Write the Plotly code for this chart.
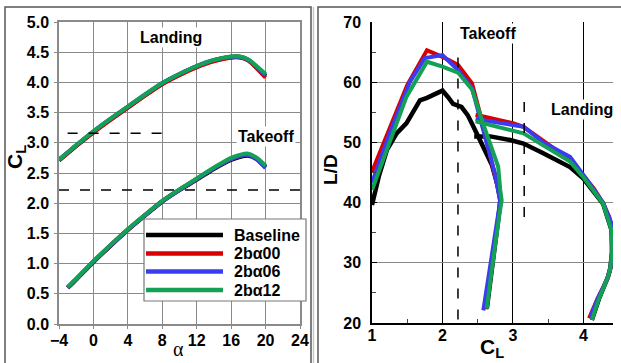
import plotly.graph_objects as go

W, H = 621, 363

# ---------------- Left panel data: CL vs alpha ----------------
alpha_land = [-4, -2, 0, 2, 4, 6, 8, 10, 12, 14, 16, 17, 18, 20]
cl_land_base = [2.71, 2.95, 3.18, 3.39, 3.59, 3.79, 3.98, 4.13, 4.26, 4.36, 4.42, 4.42, 4.37, 4.10]
cl_land_00 = [2.71, 2.95, 3.17, 3.38, 3.58, 3.78, 3.97, 4.12, 4.25, 4.35, 4.41, 4.41, 4.36, 4.08]
cl_land_06 = [2.72, 2.96, 3.19, 3.40, 3.60, 3.80, 3.99, 4.14, 4.27, 4.37, 4.42, 4.42, 4.37, 4.12]
cl_land_12 = [2.72, 2.96, 3.19, 3.40, 3.60, 3.80, 3.99, 4.14, 4.27, 4.37, 4.43, 4.43, 4.38, 4.14]

alpha_to = [-3, -2, 0, 2, 4, 6, 8, 10, 12, 14, 16, 17, 18, 19, 20]
cl_to_base = [0.60, 0.74, 1.03, 1.30, 1.56, 1.80, 2.03, 2.22, 2.39, 2.57, 2.72, 2.77, 2.79, 2.73, 2.60]
cl_to_00 = [0.60, 0.74, 1.03, 1.30, 1.56, 1.80, 2.03, 2.22, 2.40, 2.58, 2.73, 2.78, 2.80, 2.74, 2.60]
cl_to_06 = [0.60, 0.74, 1.03, 1.30, 1.56, 1.80, 2.03, 2.22, 2.40, 2.58, 2.73, 2.78, 2.80, 2.72, 2.58]
cl_to_12 = [0.61, 0.75, 1.04, 1.31, 1.57, 1.81, 2.04, 2.23, 2.41, 2.59, 2.75, 2.80, 2.82, 2.75, 2.62]

# ---------------- Right panel data: L/D vs CL ----------------
to_cl_base = [1.00, 1.10, 1.21, 1.35, 1.49, 1.60, 1.68, 1.78, 1.90, 2.00, 2.08, 2.15, 2.27, 2.36, 2.44, 2.58, 2.70, 2.78, 2.82, 2.80, 2.74, 2.68, 2.63]
to_ld_base = [39.6, 44.5, 48.7, 51.5, 53.2, 55.5, 57.0, 57.4, 58.0, 58.6, 57.5, 56.4, 55.9, 54.5, 52.6, 49.3, 46.3, 43.0, 40.4, 38.0, 32.7, 27.1, 22.4]
to_cl_00 = [1.00, 1.25, 1.50, 1.78, 2.00, 2.22, 2.42, 2.55, 2.68, 2.76, 2.80, 2.83, 2.80, 2.74, 2.68, 2.62]
to_ld_00 = [45.1, 52.5, 59.5, 65.3, 64.2, 62.9, 59.8, 54.0, 48.0, 44.0, 41.8, 40.4, 38.2, 32.7, 27.1, 22.3]
to_cl_06 = [1.00, 1.25, 1.54, 1.75, 2.00, 2.22, 2.42, 2.55, 2.67, 2.74, 2.79, 2.82, 2.79, 2.72, 2.65, 2.58]
to_ld_06 = [43.3, 51.5, 60.1, 64.0, 64.5, 62.0, 59.0, 53.5, 48.0, 45.0, 42.0, 40.3, 38.0, 32.5, 27.0, 22.1]
to_cl_12 = [1.00, 1.25, 1.49, 1.78, 2.00, 2.22, 2.42, 2.58, 2.72, 2.79, 2.82, 2.84, 2.81, 2.74, 2.68, 2.63]
to_ld_12 = [42.1, 50.0, 57.6, 63.4, 62.6, 61.6, 58.8, 53.0, 48.5, 46.0, 42.1, 40.4, 38.2, 32.7, 27.1, 22.4]

la_cl_base = [2.45, 2.68, 2.96, 3.15, 3.43, 3.81, 4.00, 4.28, 4.40, 4.41, 4.38, 4.35, 4.22, 4.12]
la_ld_base = [51.0, 51.0, 50.4, 49.8, 48.2, 45.9, 44.0, 39.8, 35.4, 32.0, 29.0, 27.7, 24.0, 20.5]
la_cl_00 = [2.47, 2.70, 3.00, 3.15, 3.43, 3.81, 4.00, 4.15, 4.28, 4.37, 4.40, 4.40, 4.36, 4.33, 4.20, 4.08]
la_ld_00 = [54.6, 54.0, 53.2, 52.6, 50.3, 47.1, 44.5, 42.3, 39.9, 37.5, 35.4, 30.0, 28.0, 27.1, 24.0, 20.8]
la_cl_06 = [2.47, 2.70, 3.00, 3.15, 3.43, 3.81, 4.00, 4.28, 4.40, 4.42, 4.40, 4.34, 4.20, 4.10]
la_ld_06 = [53.9, 53.5, 52.9, 52.6, 50.0, 47.6, 44.6, 40.0, 36.5, 33.5, 30.0, 27.3, 24.0, 21.0]
la_cl_12 = [2.47, 2.70, 3.00, 3.15, 3.43, 3.81, 4.00, 4.28, 4.40, 4.41, 4.38, 4.35, 4.22, 4.12]
la_ld_12 = [53.5, 52.8, 52.0, 51.5, 49.5, 46.8, 44.2, 39.8, 35.4, 32.0, 29.0, 27.7, 24.0, 20.5]

# reference design CL values (dashed lines)
takeoff_cl_ref = 2.22
landing_cl_ref = 3.16
takeoff_ld_span = [20.6, 65.8]
landing_ld_span = [37.6, 57.4]
landing_alpha_span = [-3.0, 8.5]

names = ["Baseline", "2b\u03b100", "2b\u03b106", "2b\u03b112"]
colors = ["#000000", "#d90000", "#3b3bf2", "#12a155"]
widths = [4.5, 4, 4, 4]

left_land = [cl_land_base, cl_land_00, cl_land_06, cl_land_12]
left_to = [cl_to_base, cl_to_00, cl_to_06, cl_to_12]
right_to = [(to_cl_base, to_ld_base), (to_cl_00, to_ld_00), (to_cl_06, to_ld_06), (to_cl_12, to_ld_12)]
right_la = [(la_cl_base, la_ld_base), (la_cl_00, la_ld_00), (la_cl_06, la_ld_06), (la_cl_12, la_ld_12)]

fig = go.Figure()
for i in range(4):
    ln = dict(color=colors[i], width=widths[i])
    fig.add_trace(go.Scatter(x=alpha_land, y=left_land[i], mode="lines", line=dict(ln, shape="spline", smoothing=0.6),
                             showlegend=False, xaxis="x", yaxis="y"))
    fig.add_trace(go.Scatter(x=alpha_to, y=left_to[i], mode="lines", line=dict(ln, shape="spline", smoothing=0.6),
                             showlegend=False, xaxis="x", yaxis="y"))
for i in range(4):
    ln = dict(color=colors[i], width=widths[i])
    fig.add_trace(go.Scatter(x=right_to[i][0], y=right_to[i][1], mode="lines", line=ln,
                             showlegend=False, xaxis="x2", yaxis="y2"))
    fig.add_trace(go.Scatter(x=right_la[i][0], y=right_la[i][1], mode="lines", line=ln,
                             showlegend=False, xaxis="x2", yaxis="y2"))

def px(x):
    return x / W

def py(y):
    return 1 - y / H

FONT = "Liberation Sans, Arial, sans-serif"
tickfont = dict(family=FONT, size=16, color="black", weight="bold")
GRID = "#8a8a8a"

shapes = []
# dashed reference lines
dash = dict(color="black", width=1.5, dash="10px,11px")
shapes.append(dict(type="line", xref="x", yref="y", x0=landing_alpha_span[0], x1=landing_alpha_span[1],
                   y0=landing_cl_ref, y1=landing_cl_ref, line=dash))
shapes.append(dict(type="line", xref="x domain", yref="y", x0=0, x1=1,
                   y0=takeoff_cl_ref, y1=takeoff_cl_ref, line=dash))
shapes.append(dict(type="line", xref="x2", yref="y2", x0=takeoff_cl_ref, x1=takeoff_cl_ref,
                   y0=takeoff_ld_span[0], y1=takeoff_ld_span[1], line=dash))
shapes.append(dict(type="line", xref="x2", yref="y2", x0=landing_cl_ref, x1=landing_cl_ref,
                   y0=landing_ld_span[0], y1=landing_ld_span[1], line=dash))

# outer frames
frame = dict(color="#555555", width=1.5)
shapes.append(dict(type="path", xref="paper", yref="paper", layer="above",
                   path=f"M {px(5)},{py(363)} L {px(5)},{py(7)} L {px(311)},{py(7)} L {px(311)},{py(363)}",
                   line=frame))
shapes.append(dict(type="line", xref="paper", yref="paper", x0=px(313.5), x1=px(313.5), y0=py(7), y1=py(363),
                   line=dict(color="#c8c8c8", width=1.5)))
shapes.append(dict(type="path", xref="paper", yref="paper", layer="above",
                   path=f"M {px(318)},{py(363)} L {px(318)},{py(7)} L {px(621)},{py(7)}",
                   line=frame))

# manual legend box
lx0, lx1, ly0, ly1 = 144, 306, 219, 301
shapes.append(dict(type="rect", xref="paper", yref="paper", layer="above",
                   x0=px(lx0), x1=px(lx1), y0=py(ly1), y1=py(ly0),
                   fillcolor="white", line=dict(color="#777777", width=1.2)))
rows = [235, 253.5, 271.5, 290]
for i in range(4):
    shapes.append(dict(type="line", xref="paper", yref="paper", layer="above",
                       x0=px(146), x1=px(223), y0=py(rows[i]), y1=py(rows[i]),
                       line=dict(color=colors[i], width=4.5)))

annotations = []
for i in range(4):
    annotations.append(dict(xref="paper", yref="paper", x=px(232), y=py(rows[i]), text=names[i],
                            showarrow=False, xanchor="left", yanchor="middle",
                            font=dict(family=FONT, size=16, color="black", weight="bold")))

lab = dict(family=FONT, size=16, color="black", weight="bold")
annotations += [
    dict(xref="paper", yref="paper", x=px(171), y=py(37), text="Landing", showarrow=False,
         bgcolor="white", font=lab, xanchor="center", yanchor="middle", borderpad=1),
    dict(xref="paper", yref="paper", x=px(266), y=py(137), text="Takeoff", showarrow=False,
         bgcolor="white", font=lab, xanchor="center", yanchor="middle", borderpad=1),
    dict(xref="paper", yref="paper", x=px(488), y=py(33), text="Takeoff", showarrow=False,
         bgcolor="white", font=lab, xanchor="center", yanchor="middle", borderpad=1),
    dict(xref="paper", yref="paper", x=px(582), y=py(110), text="Landing", showarrow=False,
         bgcolor="white", font=lab, xanchor="center", yanchor="middle", borderpad=1),
    # axis titles
    dict(xref="paper", yref="paper", x=px(16), y=py(157), text="<b>C<sub>L</sub></b>", showarrow=False,
         textangle=-90, font=dict(family=FONT, size=21, color="black"), xanchor="center", yanchor="middle"),
    dict(xref="paper", yref="paper", x=px(178), y=py(349), text="\u03b1", showarrow=False,
         font=dict(family="Liberation Serif, Times New Roman, serif", size=20, color="black"),
         xanchor="center", yanchor="middle"),
    dict(xref="paper", yref="paper", x=px(492), y=py(348), text="<b>C<sub>L</sub></b>", showarrow=False,
         font=dict(family=FONT, size=21, color="black"), xanchor="center", yanchor="middle"),
    dict(xref="paper", yref="paper", x=px(330), y=py(170), text="<b>L/D</b>", showarrow=False,
         textangle=-90, font=dict(family=FONT, size=19, color="black"), xanchor="center", yanchor="middle"),
]

fig.update_layout(
    width=W, height=H,
    margin=dict(l=0, r=0, t=0, b=0, pad=0),
    paper_bgcolor="white", plot_bgcolor="white",
    showlegend=False,
    xaxis=dict(domain=[px(59), px(300)], range=[-4, 24], tick0=-4, dtick=4, automargin=False,
               showgrid=True, gridcolor=GRID, gridwidth=1, zeroline=False,
               showline=True, linecolor=GRID, linewidth=1.5, mirror=True,
               ticks="outside", ticklen=3, tickcolor=GRID, tickfont=tickfont, ticklabelstandoff=-2),
    yaxis=dict(domain=[py(324), py(22)], range=[0, 5], tick0=0, dtick=0.5, tickformat=".1f", automargin=False,
               showgrid=True, gridcolor=GRID, gridwidth=1, zeroline=False,
               showline=True, linecolor=GRID, linewidth=1.5, mirror=True,
               ticks="outside", ticklen=3, tickcolor=GRID, tickfont=tickfont, ticklabelstandoff=2),
    xaxis2=dict(domain=[px(372), px(613)], range=[1, 4.42], tick0=1, dtick=1, anchor="y2", automargin=False,
                showgrid=True, gridcolor="black", gridwidth=1, zeroline=False,
                showline=True, linecolor="black", linewidth=1.5,
                ticks="inside", ticklen=5, tickcolor="black", tickfont=tickfont, ticklabelstandoff=-3,
                minor=dict(dtick=0.5, tick0=1, ticks="inside", ticklen=4, tickcolor="#444", showgrid=False)),
    yaxis2=dict(domain=[py(323), py(22)], range=[20, 70], tick0=20, dtick=10, anchor="x2", automargin=False,
                showgrid=True, gridcolor=GRID, gridwidth=1, zeroline=False,
                showline=True, linecolor="black", linewidth=1.5,
                ticks="inside", ticklen=5, tickcolor="black", tickfont=tickfont, ticklabelstandoff=6,
                minor=dict(dtick=5, tick0=20, ticks="inside", ticklen=4, tickcolor="#444", showgrid=False)),
    shapes=shapes,
    annotations=annotations,
)

fig.write_html("out.html")
